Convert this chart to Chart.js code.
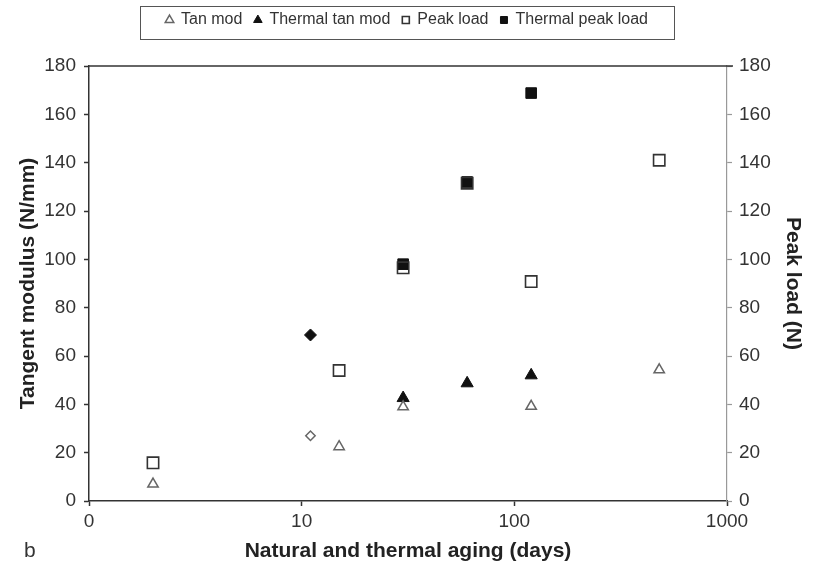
<!DOCTYPE html>
<html>
<head>
<meta charset="utf-8">
<script src="https://cdn.jsdelivr.net/npm/chart.js@4.4.1/dist/chart.umd.min.js"></script>
<style>
  html, body { margin: 0; padding: 0; background: #fff; }
</style>
</head>
<body>
<canvas id="agingChart" width="814" height="566"></canvas>
<script>
// x axis (log), the first tick is printed as "0"
const xTicks = [1, 10, 100, 1000];
const yTicksMax = 180;

const tanModDays = [2, 15, 30, 120, 480];
const tanModValues = [7, 22.5, 39, 39.2, 54.3];

const thermalTanDays = [30, 60, 120];
const thermalTanValues = [42.6, 48.7, 52];

const peakLoadDays = [2, 15, 30, 60, 120, 480];
const peakLoadValues = [15.8, 54, 96.5, 131.5, 90.8, 141];

const thermalPeakDays = [30, 60, 120];
const thermalPeakValues = [98, 132, 168.8];

// the two diamonds at 11 days are not in the legend
const filledDiamondDays = [11];
const filledDiamondValues = [68.7];
const openDiamondDays = [11];
const openDiamondValues = [27];

function toPoints(days, values) {
  return days.map((d, i) => ({ x: d, y: values[i] }));
}

Chart.defaults.font.family = '"Liberation Sans", Arial, sans-serif';

// legend sits in its own band above the plot
const legendBandPlugin = {
  id: "legendBand",
  afterInit(chart) {
    const legend = chart.legend;
    const fit = legend.fit;
    legend.fit = function () {
      fit.call(this);
      this.height = 66;
    };
  },
};

const framePlugin = {
  id: "frame",
  afterDraw(chart) {
    const { ctx, chartArea, legend } = chart;
    ctx.save();
    // top edge of the plot
    ctx.strokeStyle = "#333";
    ctx.lineWidth = 1.5;
    ctx.beginPath();
    ctx.moveTo(chartArea.left, chartArea.top);
    ctx.lineTo(chartArea.right + 6, chartArea.top);
    ctx.stroke();

    // box round the legend
    const boxes = legend.legendHitBoxes;
    if (boxes && boxes.length) {
      const l = Math.min(...boxes.map((b) => b.left)) - 26;
      const r = Math.max(...boxes.map((b) => b.left + b.width)) + 26;
      const t = boxes[0].top - 6;
      ctx.lineWidth = 1;
      ctx.strokeStyle = "#555";
      ctx.strokeRect(Math.round(l) + 0.5, Math.round(t) + 0.5, Math.round(r - l), 33);
    }

    // panel letter
    ctx.fillStyle = "#333";
    ctx.font = '21px "Liberation Sans", Arial, sans-serif';
    ctx.textBaseline = "middle";
    ctx.textAlign = "left";
    ctx.fillText("b", 24, 551);
    ctx.restore();
  },
};

const ctx = document.getElementById("agingChart").getContext("2d");

new Chart(ctx, {
  type: "scatter",
  data: {
    datasets: [
      {
        label: "Tan mod",
        data: toPoints(tanModDays, tanModValues),
        yAxisID: "y",
        pointStyle: "triangle",
        pointRadius: 6,
        pointHoverRadius: 6,
        backgroundColor: "rgba(255,255,255,0)",
        borderColor: "#666",
        borderWidth: 1.5,
      },
      {
        label: "Thermal tan mod",
        data: toPoints(thermalTanDays, thermalTanValues),
        yAxisID: "y",
        pointStyle: "triangle",
        pointRadius: 7,
        pointHoverRadius: 7,
        backgroundColor: "#111",
        borderColor: "#111",
        borderWidth: 1,
      },
      {
        label: "Peak load",
        data: toPoints(peakLoadDays, peakLoadValues),
        yAxisID: "y2",
        pointStyle: "rect",
        pointRadius: 8,
        pointHoverRadius: 8,
        backgroundColor: "rgba(255,255,255,0)",
        borderColor: "#333",
        borderWidth: 1.6,
      },
      {
        label: "Thermal peak load",
        data: toPoints(thermalPeakDays, thermalPeakValues),
        yAxisID: "y2",
        pointStyle: "rect",
        pointRadius: 7.5,
        pointHoverRadius: 7.5,
        backgroundColor: "#111",
        borderColor: "#111",
        borderWidth: 1,
      },
      {
        label: "Filled diamond",
        data: toPoints(filledDiamondDays, filledDiamondValues),
        yAxisID: "y2",
        pointStyle: "rectRot",
        pointRadius: 6,
        pointHoverRadius: 6,
        backgroundColor: "#111",
        borderColor: "#111",
        borderWidth: 1,
      },
      {
        label: "Open diamond",
        data: toPoints(openDiamondDays, openDiamondValues),
        yAxisID: "y",
        pointStyle: "rectRot",
        pointRadius: 4.7,
        pointHoverRadius: 4.7,
        backgroundColor: "rgba(255,255,255,0)",
        borderColor: "#666",
        borderWidth: 1.5,
      },
    ],
  },
  options: {
    responsive: false,
    animation: false,
    layout: { padding: 0 },
    plugins: {
      legend: {
        position: "top",
        labels: {
          usePointStyle: true,
          boxWidth: 7,
          boxHeight: 7,
          padding: 12,
          color: "#333",
          font: { size: 16 },
          filter: (item) => item.datasetIndex < 4,
        },
      },
      tooltip: { enabled: false },
    },
    scales: {
      x: {
        type: "logarithmic",
        position: "bottom",
        min: xTicks[0],
        max: xTicks[xTicks.length - 1],
        afterBuildTicks: (scale) => {
          scale.ticks = xTicks.map((v) => ({ value: v }));
        },
        afterFit: (scale) => {
          scale.height = 65;
        },
        ticks: {
          autoSkip: false,
          maxRotation: 0,
          padding: 4,
          color: "#333",
          font: { size: 19 },
          callback: (value) => (value === 1 ? "0" : String(value)),
        },
        grid: {
          drawOnChartArea: false,
          drawTicks: true,
          tickLength: 5,
          tickColor: "#333",
          tickWidth: 1.5,
        },
        border: { color: "#333", width: 1.5 },
        title: {
          display: true,
          text: "Natural and thermal aging (days)",
          color: "#222",
          font: { size: 21, weight: "bold" },
          padding: { top: 0, bottom: 2 },
        },
      },
      y: {
        position: "left",
        min: 0,
        max: yTicksMax,
        afterFit: (scale) => {
          scale.width = 89;
        },
        ticks: {
          stepSize: 20,
          padding: 8,
          color: "#333",
          font: { size: 19 },
        },
        grid: {
          drawOnChartArea: false,
          tickLength: 5,
          tickColor: "#333",
          tickWidth: 1.5,
        },
        border: { color: "#333", width: 1.5 },
        title: {
          display: true,
          text: "Tangent modulus (N/mm)",
          color: "#222",
          font: { size: 21, weight: "bold" },
          padding: { top: 16, bottom: 0 },
        },
      },
      y2: {
        position: "right",
        min: 0,
        max: yTicksMax,
        afterFit: (scale) => {
          scale.width = 87;
        },
        ticks: {
          stepSize: 20,
          padding: 7,
          color: "#333",
          font: { size: 19 },
        },
        grid: {
          drawOnChartArea: false,
          tickLength: 5,
          tickColor: "#999",
          tickWidth: 1.2,
        },
        border: { color: "#999", width: 1.2 },
        title: {
          display: true,
          text: "Peak load (N)",
          color: "#222",
          font: { size: 21, weight: "bold" },
          padding: { top: 9, bottom: 0 },
        },
      },
    },
  },
  plugins: [legendBandPlugin, framePlugin],
});
</script>
</body>
</html>
